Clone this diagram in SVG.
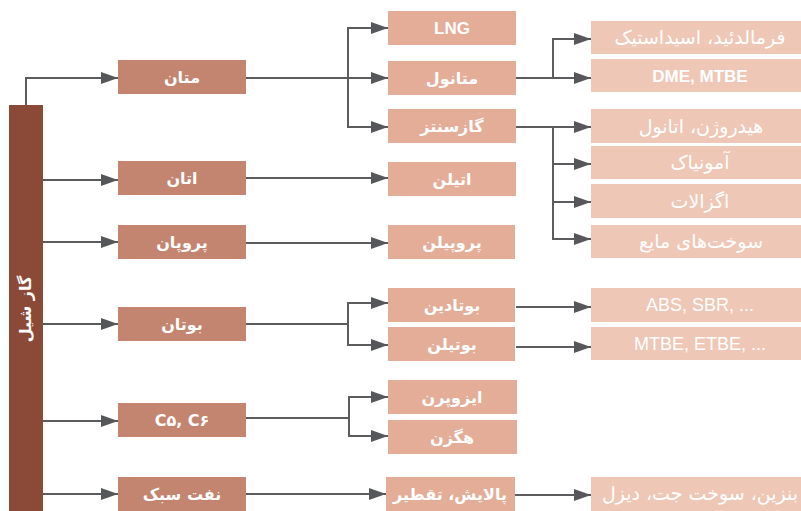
<svg xmlns="http://www.w3.org/2000/svg" width="801" height="511" viewBox="0 0 801 511">
<style>
.c1{fill:#c3856f}.c2{fill:#e3ad98}.c3{fill:#efc7b6}
.t{font-family:"DejaVu Sans","Noto Sans",sans-serif;fill:#ffffff;text-anchor:middle}
.b{font-weight:bold;font-size:16px}
.r{font-size:19px}
.lat{font-family:"Liberation Sans",Arial,sans-serif;font-size:17px}
.lr{font-family:"Liberation Sans",Arial,sans-serif;font-size:18px}
.ln{fill:none;stroke:#5b5c5e;stroke-width:2}
</style>
<defs>
<marker id="ah" markerWidth="17" markerHeight="12" refX="17" refY="6" orient="auto" markerUnits="userSpaceOnUse"><path d="M0,0 L17,6 L0,12 z" fill="#55575a"/></marker>
</defs>
<rect width="801" height="511" fill="#ffffff"/>
<g id="connectors" class="ln">
<path d="M26,105 V78 H118" marker-end="url(#ah)"/>
<path d="M43,180 H118" marker-end="url(#ah)"/>
<path d="M43,242 H118" marker-end="url(#ah)"/>
<path d="M43,324 H118" marker-end="url(#ah)"/>
<path d="M43,421 H118" marker-end="url(#ah)"/>
<path d="M43,494 H118" marker-end="url(#ah)"/>
<path d="M246,78 H388" marker-end="url(#ah)"/>
<path d="M348,78 V28 H388" marker-end="url(#ah)"/>
<path d="M348,78 V127 H388" marker-end="url(#ah)"/>
<path d="M246,178 H388" marker-end="url(#ah)"/>
<path d="M246,243 H388" marker-end="url(#ah)"/>
<path d="M246,324 H348 V303 H388" marker-end="url(#ah)"/>
<path d="M348,324 V345 H388" marker-end="url(#ah)"/>
<path d="M246,418 H349 V397 H388" marker-end="url(#ah)"/>
<path d="M349,418 V436 H388" marker-end="url(#ah)"/>
<path d="M246,494 H386" marker-end="url(#ah)"/>
<path d="M516,78 H591" marker-end="url(#ah)"/>
<path d="M553,78 V39 H591" marker-end="url(#ah)"/>
<path d="M516,127 H591" marker-end="url(#ah)"/>
<path d="M553,127 V164 H591" marker-end="url(#ah)"/>
<path d="M553,127 V202 H591" marker-end="url(#ah)"/>
<path d="M553,127 V239 H591" marker-end="url(#ah)"/>
<path d="M516,307 H591" marker-end="url(#ah)"/>
<path d="M516,347 H591" marker-end="url(#ah)"/>
<path d="M515,495 H591" marker-end="url(#ah)"/>
</g>
<g id="shale-gas"><rect x="9" y="105" width="34" height="406" fill="#8b4a38"/><text class="t b" transform="translate(26,309) rotate(-90)" y="5">گاز شیل</text></g>
<g id="methane"><rect class="c1" x="118" y="60" width="128" height="34"/><text class="t b" x="182" y="83">متان</text></g>
<g id="ethane"><rect class="c1" x="118" y="161" width="128" height="34"/><text class="t b" x="182" y="184">اتان</text></g>
<g id="propane"><rect class="c1" x="118" y="225" width="128" height="34"/><text class="t b" x="182" y="248">پروپان</text></g>
<g id="butane"><rect class="c1" x="118" y="307" width="128" height="34"/><text class="t b" x="182" y="330">بوتان</text></g>
<g id="c5c6"><rect class="c1" x="118" y="403" width="128" height="34"/><text class="t b" x="182" y="426">C۵, C۶</text></g>
<g id="naphtha"><rect class="c1" x="118" y="477" width="128" height="34"/><text class="t b" x="182" y="500">نفت سبک</text></g>
<g id="lng"><rect class="c2" x="388" y="11" width="128" height="34"/><text class="t b lat" x="452" y="34">LNG</text></g>
<g id="methanol"><rect class="c2" x="388" y="61" width="128" height="34"/><text class="t b" x="452" y="84">متانول</text></g>
<g id="syngas"><rect class="c2" x="388" y="109" width="128" height="34"/><text class="t b" x="452" y="132">گازسنتز</text></g>
<g id="ethylene"><rect class="c2" x="388" y="162" width="128" height="34"/><text class="t b" x="452" y="185">اتیلن</text></g>
<g id="propylene"><rect class="c2" x="388" y="225" width="127" height="34"/><text class="t b" x="452" y="248">پروپیلن</text></g>
<g id="butadiene"><rect class="c2" x="388" y="288" width="127" height="34"/><text class="t b" x="452" y="311">بوتادین</text></g>
<g id="butylene"><rect class="c2" x="388" y="327" width="127" height="34"/><text class="t b" x="452" y="350">بوتیلن</text></g>
<g id="isoprene"><rect class="c2" x="388" y="380" width="129" height="34"/><text class="t b" x="452" y="403">ایزوپرن</text></g>
<g id="hexene"><rect class="c2" x="388" y="420" width="129" height="34"/><text class="t b" x="452" y="443">هگزن</text></g>
<g id="refining"><rect class="c2" x="386" y="477" width="129" height="34"/><text class="t b" x="450" y="500">پالایش، تقطیر</text></g>
<g id="formaldehyde"><rect class="c3" x="591" y="21" width="210" height="33"/><text class="t r" x="700" y="44">فرمالدئید، اسیداستیک</text></g>
<g id="dme"><rect class="c3" x="591" y="59" width="210" height="33"/><text class="t b lat" x="700" y="82">DME, MTBE</text></g>
<g id="hydrogen"><rect class="c3" x="591" y="109" width="210" height="34"/><text class="t r" x="701" y="133">هیدروژن، اتانول</text></g>
<g id="ammonia"><rect class="c3" x="591" y="146" width="210" height="33"/><text class="t r" x="700" y="169">آمونیاک</text></g>
<g id="oxalate"><rect class="c3" x="591" y="184" width="210" height="34"/><text class="t r" x="700" y="208">اگزالات</text></g>
<g id="liquid-fuels"><rect class="c3" x="591" y="225" width="210" height="33"/><text class="t r" x="701" y="248">سوخت‌های مایع</text></g>
<g id="abs"><rect class="c3" x="591" y="288" width="210" height="34"/><text class="t lr" x="700" y="311">ABS, SBR, ...</text></g>
<g id="mtbe"><rect class="c3" x="591" y="327" width="210" height="33"/><text class="t lr" x="700" y="350">MTBE, ETBE, ...</text></g>
<g id="gasoline"><rect class="c3" x="591" y="477" width="210" height="34"/><text class="t r" x="700" y="500">بنزین، سوخت جت، دیزل</text></g>
</svg>
